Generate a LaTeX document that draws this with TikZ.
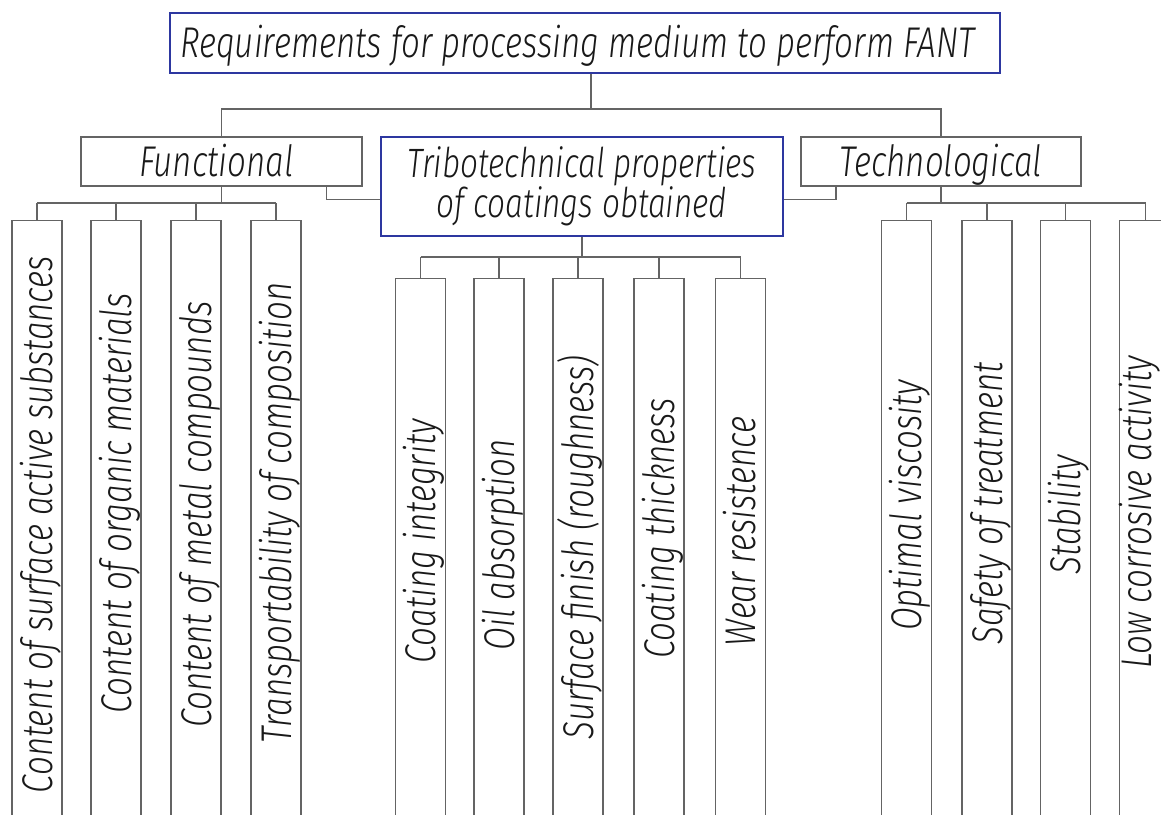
\documentclass[tikz,border=0pt]{standalone}
\usepackage{fontspec}
\setmainfont{Fira Sans Light Italic}[FakeStretch=0.77]
\definecolor{frameblue}{RGB}{45,55,160}
\definecolor{linegray}{RGB}{100,100,100}
\definecolor{inkblack}{RGB}{25,25,25}

\begin{document}
\begin{tikzpicture}[x=1pt, y=-1pt, font=\fontsize{43pt}{40pt}\selectfont]
    \tikzset{
        head/.style={draw=frameblue, line width=2.8pt, fill=white, text=inkblack, inner sep=0pt},
        group/.style={draw=linegray, line width=1.1pt, text=inkblack, inner sep=0pt, minimum height=49pt, text height=31pt, text depth=1pt},
        leaf/.style={draw=linegray, line width=1.1pt, text=inkblack, rotate=90, anchor=east, inner sep=0pt, minimum height=50pt, minimum width=600pt, text height=32pt, text depth=2pt},
        link/.style={draw=linegray, line width=1.1pt}
    };
    \useasboundingbox (0,0) rectangle (1161,814);
    \clip (0,0) rectangle (1161,814);

    % headings
    \node[head, minimum width=830pt, minimum height=60pt, text height=30pt, text depth=2pt] (title) at (585,43) {\hspace*{-15pt}Requirements for processing medium to perform FANT};
    \node[group, minimum width=281pt] (func) at (221.5,161.5) {\hspace*{-10pt}Functional};
    \node[group, minimum width=280pt] (tech) at (941,161.5) {Technological};
    \node[head, minimum width=402pt, minimum height=99pt, align=center, font=\fontsize{41pt}{40pt}\selectfont] (tribo) at (582,186.5) {Tribotechnical properties\\of coatings obtained};

    % leaves
    \foreach \x/\s/\txt [count=\i] in {37/-8/Content of surface active substances, 116/34/Content of organic materials, 196/12/Content of metal compounds, 276/16/Transportability of composition}
        \node[leaf] (f\i) at (\x,220) {\hspace*{\s pt}\txt};
    \foreach \x/\s/\txt [count=\i] in {420.5/16/Coating integrity, 499/10/Oil absorption, 578/4/Surface finish (roughness), 659/42/Coating thickness, 740.5/36/Wear resistence}
        \node[leaf, minimum width=542pt] (p\i) at (\x,278) {\hspace*{\s pt}\txt};
    \foreach \x/\s/\txt [count=\i] in {906.5/30/Optimal viscosity, 987/34/Safety of treatment, 1065.5/12/Stability}
        \node[leaf] (t\i) at (\x,220) {\hspace*{\s pt}\txt};
    % last one sits at the edge, keep its descender inside
    \node[leaf, text depth=20pt] (t4) at (1145.5,220) {\hspace*{16pt}Low corrosive activity};

    % connectors
    \coordinate (hub) at (591,109);
    \draw[link] (title.south -| hub) -- (hub);
    \draw[link] (func.north) |- (hub) -| (tech.north);
    \draw[link] ([xshift=105pt]func.south) |- ([yshift=-13pt]tribo.west);
    \draw[link] ([xshift=-105pt]tech.south) |- ([yshift=-13pt]tribo.east);

    \coordinate (fbar) at (0,203);
    \coordinate (pbar) at (0,257);
    \coordinate (tbar) at (0,203);
    \draw[link] (func.south) -- (func.south |- fbar);
    \draw[link] (f1.east |- fbar) -- (f4.east |- fbar);
    \foreach \i in {1,...,4}
        \draw[link] (f\i.east) -- (f\i.east |- fbar);
    \draw[link] (tribo.south) -- (tribo.south |- pbar);
    \draw[link] (p1.east |- pbar) -- (p5.east |- pbar);
    \foreach \i in {1,...,5}
        \draw[link] (p\i.east) -- (p\i.east |- pbar);
    \draw[link] (tech.south) -- (tech.south |- tbar);
    \draw[link] (t1.east |- tbar) -- (t4.east |- tbar);
    \foreach \i in {1,...,4}
        \draw[link] (t\i.east) -- (t\i.east |- tbar);
\end{tikzpicture}
\end{document}
